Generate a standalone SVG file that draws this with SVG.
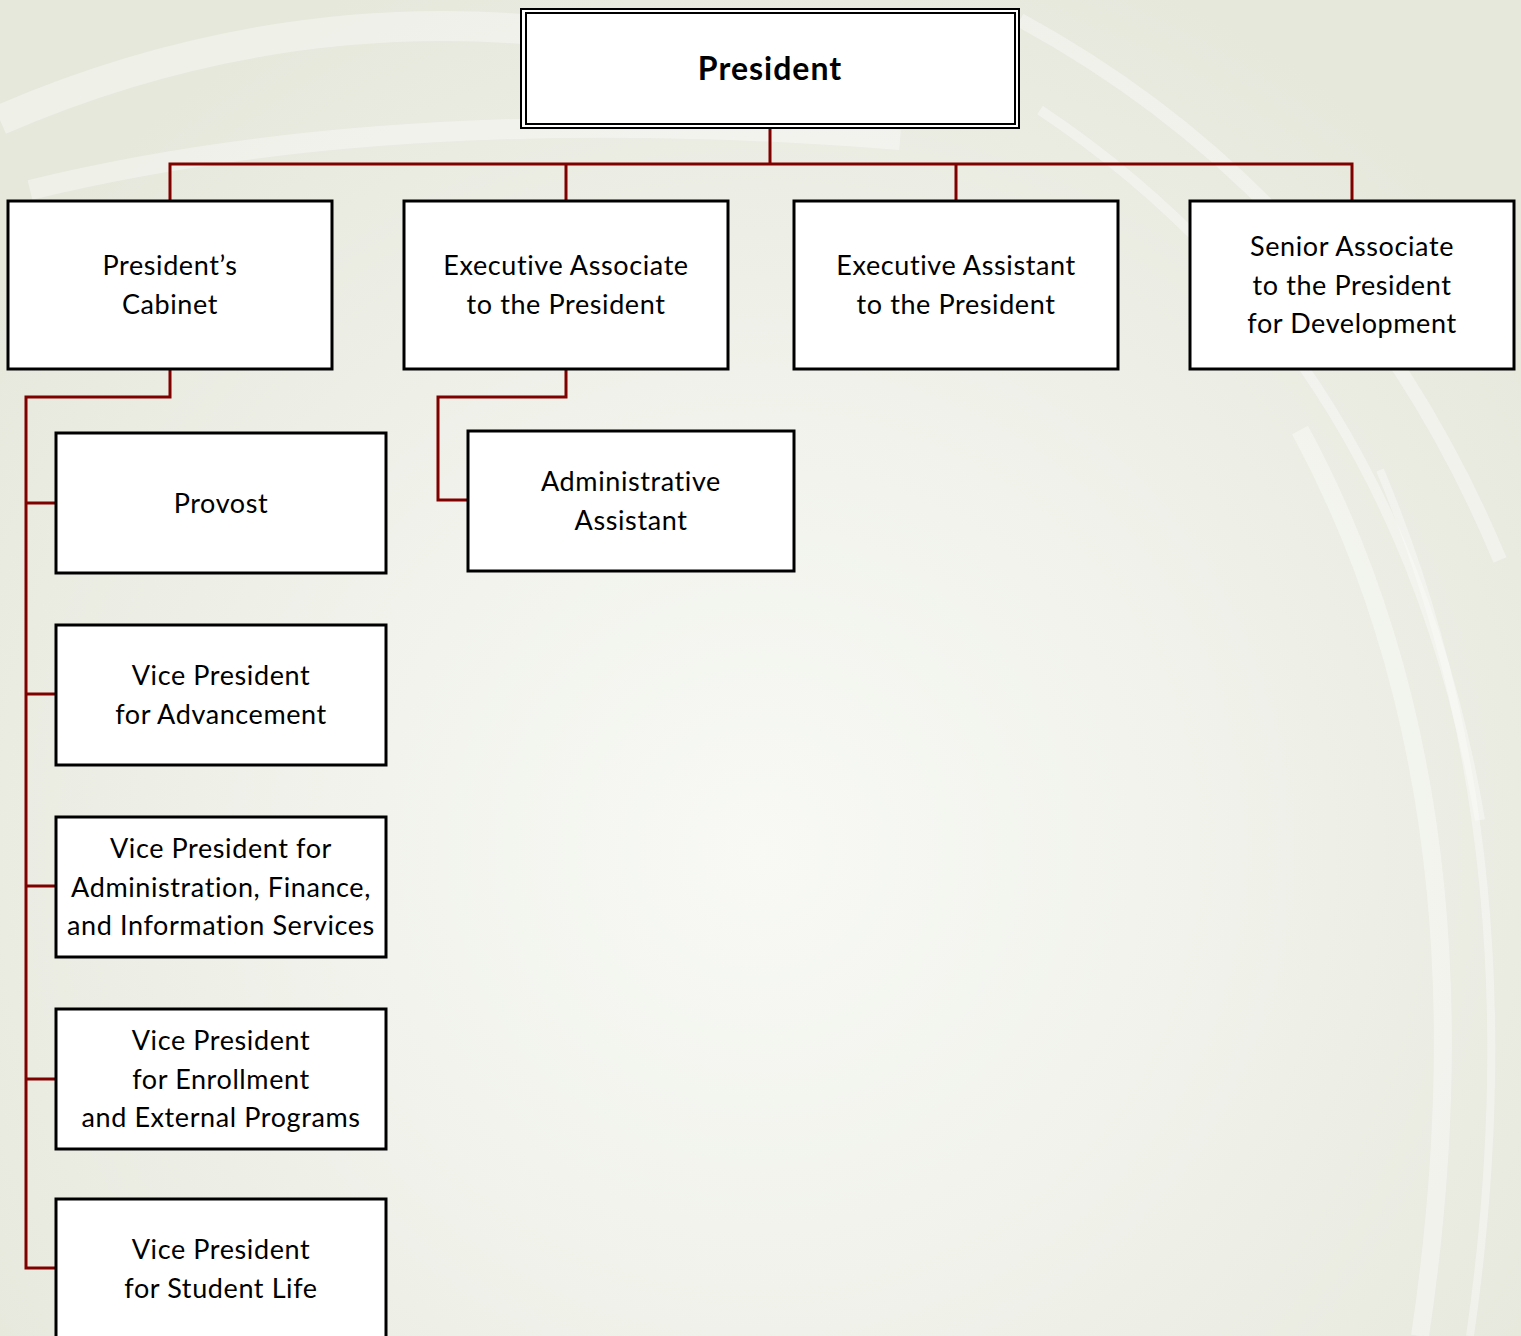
<svg xmlns="http://www.w3.org/2000/svg" width="1521" height="1336" viewBox="0 0 1521 1336">
<defs>
<radialGradient id="bg" cx="760" cy="850" r="950" gradientUnits="userSpaceOnUse">
<stop offset="0" stop-color="#f8f9f5"/>
<stop offset="0.6" stop-color="#eef0e8"/>
<stop offset="1" stop-color="#e6e8dc"/>
</radialGradient>
<style>
.box{fill:#ffffff;stroke:#000000;stroke-width:3}
.t{font-family:"Lato","Liberation Sans",sans-serif;font-size:27px;fill:#000000;text-anchor:middle;letter-spacing:0.6px}
.tb{font-family:"Lato","Liberation Sans",sans-serif;font-size:32px;font-weight:bold;fill:#000000;text-anchor:middle;letter-spacing:1px}
.c{fill:none;stroke:#800000;stroke-width:3}
.sw{fill:none;stroke:#ffffff;stroke-opacity:0.35}
</style>
</defs>
<rect x="0" y="0" width="1521" height="1336" fill="url(#bg)"/>
<g id="background-swooshes">
<path class="sw" stroke-width="30" d="M0,120 Q300,-10 620,40"/>
<path class="sw" stroke-width="20" d="M30,190 Q400,100 900,140"/>
<path class="sw" stroke-width="14" d="M1020,20 Q1350,200 1500,560"/>
<path class="sw" stroke-width="10" d="M1040,110 Q1400,350 1480,820"/>
<path class="sw" stroke-width="18" d="M1300,430 Q1500,800 1420,1336"/>
<path class="sw" stroke-width="8" d="M1380,470 Q1540,850 1470,1336"/>
</g>
<g id="connectors">
<path class="c" d="M770,129 V164 M170,201 V164 H1352 V201 M566,164 V201 M956,164 V201"/>
<path class="c" d="M170,369 V397 H26 V1268 H56 M26,503 H56 M26,694 H56 M26,886 H56 M26,1079 H56"/>
<path class="c" d="M566,369 V397 H438 V500 H468"/>
</g>
<g id="node-president">
<rect x="521" y="9" width="498" height="119" fill="#ffffff" stroke="#000" stroke-width="2"/>
<rect x="526" y="13" width="489" height="111" fill="none" stroke="#000" stroke-width="2"/>
<text class="tb" x="770" y="80">President</text>
</g>
<g id="node-cabinet">
<rect class="box" x="8" y="201" width="324" height="168"/>
<text class="t" x="170" y="275">President’s</text>
<text class="t" x="170" y="314">Cabinet</text>
</g>
<g id="node-exec-associate">
<rect class="box" x="404" y="201" width="324" height="168"/>
<text class="t" x="566" y="275">Executive Associate</text>
<text class="t" x="566" y="314">to the President</text>
</g>
<g id="node-exec-assistant">
<rect class="box" x="794" y="201" width="324" height="168"/>
<text class="t" x="956" y="275">Executive Assistant</text>
<text class="t" x="956" y="314">to the President</text>
</g>
<g id="node-senior-associate">
<rect class="box" x="1190" y="201" width="324" height="168"/>
<text class="t" x="1352" y="256">Senior Associate</text>
<text class="t" x="1352" y="295">to the President</text>
<text class="t" x="1352" y="333">for Development</text>
</g>
<g id="node-admin-assistant">
<rect class="box" x="468" y="431" width="326" height="140"/>
<text class="t" x="631" y="491">Administrative</text>
<text class="t" x="631" y="530">Assistant</text>
</g>
<g id="node-provost">
<rect class="box" x="56" y="433" width="330" height="140"/>
<text class="t" x="221" y="513">Provost</text>
</g>
<g id="node-vp-advancement">
<rect class="box" x="56" y="625" width="330" height="140"/>
<text class="t" x="221" y="685">Vice President</text>
<text class="t" x="221" y="724">for Advancement</text>
</g>
<g id="node-vp-admin">
<rect class="box" x="56" y="817" width="330" height="140"/>
<text class="t" x="221" y="858">Vice President for</text>
<text class="t" x="221" y="897">Administration, Finance,</text>
<text class="t" x="221" y="935">and Information Services</text>
</g>
<g id="node-vp-enrollment">
<rect class="box" x="56" y="1009" width="330" height="140"/>
<text class="t" x="221" y="1050">Vice President</text>
<text class="t" x="221" y="1089">for Enrollment</text>
<text class="t" x="221" y="1127">and External Programs</text>
</g>
<g id="node-vp-student-life">
<rect class="box" x="56" y="1199" width="330" height="150"/>
<text class="t" x="221" y="1259">Vice President</text>
<text class="t" x="221" y="1298">for Student Life</text>
</g>
</svg>
